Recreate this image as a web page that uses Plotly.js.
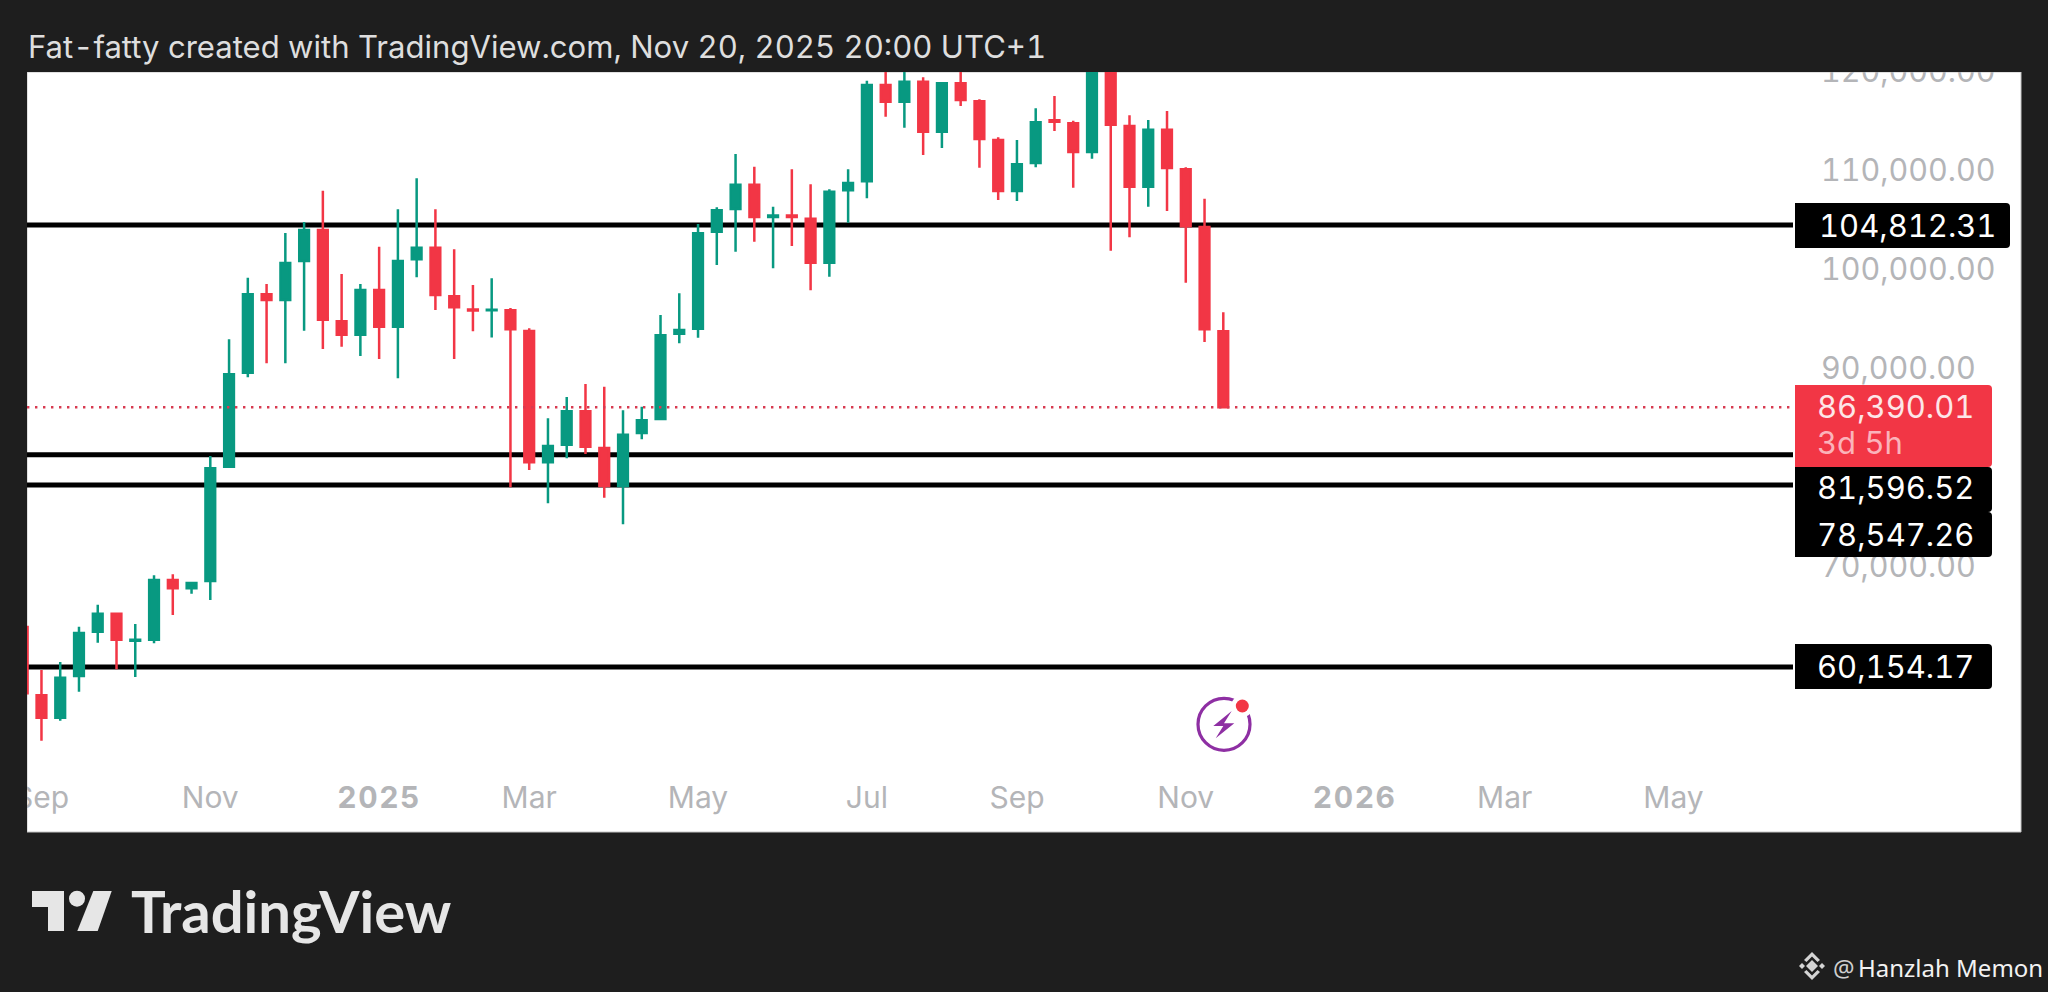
<!DOCTYPE html>
<html>
<head>
<meta charset="utf-8">
<script src="https://cdn.plot.ly/plotly-3.0.1.min.js"></script>
<style>
html,body{margin:0;padding:0;background:#1e1e1e;overflow:hidden}#chart{width:2048px;height:992px}
svg text{font-variant-numeric:tabular-nums;font-feature-settings:"tnum" 1}
.xtick tspan{letter-spacing:1.5px}
</style>
</head>
<body>
<div id="chart"></div>
<script>
const weeks = ["2024-08-26","2024-09-02","2024-09-09","2024-09-16","2024-09-23","2024-09-30","2024-10-07","2024-10-14","2024-10-21","2024-10-28","2024-11-04","2024-11-11","2024-11-18","2024-11-25","2024-12-02","2024-12-09","2024-12-16","2024-12-23","2024-12-30","2025-01-06","2025-01-13","2025-01-20","2025-01-27","2025-02-03","2025-02-10","2025-02-17","2025-02-24","2025-03-03","2025-03-10","2025-03-17","2025-03-24","2025-03-31","2025-04-07","2025-04-14","2025-04-21","2025-04-28","2025-05-05","2025-05-12","2025-05-19","2025-05-26","2025-06-02","2025-06-09","2025-06-16","2025-06-23","2025-06-30","2025-07-07","2025-07-14","2025-07-21","2025-07-28","2025-08-04","2025-08-11","2025-08-18","2025-08-25","2025-09-01","2025-09-08","2025-09-15","2025-09-22","2025-09-29","2025-10-06","2025-10-13","2025-10-20","2025-10-27","2025-11-03","2025-11-10","2025-11-17"];
const opens = [64194,57293,55030,59243,63719,65538,62800,62911,68943,68104,68842,80391,89888,97810,97234,101175,104307,95082,93728,98244,94536,101346,102518,97608,96274,96200,96193,94102,80835,82613,85988,82280,78441,83796,85210,93829,94334,104135,106429,108884,105620,105780,105448,101003,108318,109228,118958,117270,119291,114239,119129,117311,113400,108247,111076,115400,115088,112188,123500,114815,108682,114441,110440,104610,94072];
const highs = [65406,59849,60658,64224,66447,65639,64497,69418,69519,68741,81472,93263,99487,98851,104004,105115,108278,99861,98851,102619,106398,109531,106398,102357,98750,99426,96426,94375,85281,87433,88747,88474,86089,86453,95718,97911,104913,106600,111986,110703,106661,110440,108924,108419,110440,119392,123200,120300,119735,119261,124400,117513,113673,113400,116603,117846,115350,125700,126200,115896,115421,116331,110642,107469,95991];
const lows = [56313,52706,54726,57657,62608,59920,59142,62547,65406,67559,66922,80300,89423,90838,90838,94132,92283,92515,91576,91273,89322,99527,96224,91273,94072,93445,78308,80057,76693,81239,81674,77258,74571,83159,85100,92859,93425,100770,102114,103125,100436,102690,98214,99588,105044,107510,115755,114643,111885,112592,116836,110602,107338,107237,110642,114310,108581,111511,102215,103569,106661,106227,98982,92990,86390.01];
const closes = [57496,55030,59071,63588,65538,62911,62900,68943,68104,68640,80229,89726,97810,97234,100972,104307,95243,93728,98244,94536,101175,102518,97739,96497,96173,96260,94273,80835,82482,85988,82411,78441,83623,85079,93667,94203,103973,106297,108884,105620,105780,105620,101003,108177,109056,118958,117270,119291,114239,119129,117442,113501,108247,110945,115189,115240,112188,123500,114946,108682,114441,110571,104681,94273,86390.01];

const levels = [104812.31, 81596.52, 78547.26, 60154.17];
const lastPrice = 86390.01;
const priceTicks = [70000,90000,100000,110000,120000];
const timeTickDates = ["2024-09-02","2024-11-04","2025-01-06","2025-03-03","2025-05-05","2025-07-07","2025-09-01","2025-11-03","2026-01-05","2026-03-02","2026-05-04"];
const timeTickLabels = ["Sep","Nov","<b>2025</b>","Mar","May","Jul","Sep","Nov","<b>2026</b>","Mar","May"];
const titleText = "Fat-fatty created with TradingView.com, Nov 20, 2025 20:00 UTC+1";

const W=2048,H=992,L=27,R=1793,T=72,B=770;
const GREEN="#089981",RED="#F23645",DARK="#1e1e1e",GREY="#b4b5b8",UI="Inter, Roboto, sans-serif";
const px=x=>(x-L)/(R-L), py=y=>(B-y)/(B-T);
const P=(x,y)=>px(x)+","+py(y);
function pathOf(pts){return "M"+pts.map(p=>P(p[0],p[1])).join(" L")+" Z";}
function paperShape(path,fill,layer){return {type:"path",xref:"paper",yref:"paper",path:path,fillcolor:fill,line:{width:0},layer:layer||"above"};}
function paperRect(x0,y0,x1,y1,fill,layer,line){return {type:"rect",xref:"paper",yref:"paper",x0:px(x0),x1:px(x1),y0:py(y0),y1:py(y1),fillcolor:fill,line:line||{width:0},layer:layer||"above"};}
function circle(cx,cy,r,fill,line){return {type:"circle",xref:"paper",yref:"paper",x0:px(cx-r),x1:px(cx+r),y0:py(cy+r),y1:py(cy-r),fillcolor:fill,line:line||{width:0},layer:"above"};}
function tag(x0,y0,x1,y1,fill){const r=4;return paperShape("M"+P(x0,y0)+" L"+P(x1-r,y0)+" Q"+P(x1,y0)+" "+P(x1,y0+r)+" L"+P(x1,y1-r)+" Q"+P(x1,y1)+" "+P(x1-r,y1)+" L"+P(x0,y1)+" Z",fill);}
function label(x,y,text,size,color,family,anchor){return {xref:"paper",yref:"paper",x:px(x),y:py(y),text:text,showarrow:false,xanchor:anchor||"left",yanchor:"middle",font:{size:size,color:color,family:family||UI},borderpad:0};}

const shapes=[
  paperRect(L,T,2021,832,"#ffffff","below",{color:"#c4c4c4",width:1}),
  ...levels.map(v=>({type:"line",xref:"paper",yref:"y",x0:0,x1:1,y0:v,y1:v,line:{color:"#000",width:5},layer:"below"})),
  {type:"line",xref:"paper",yref:"y",x0:0,x1:1,y0:lastPrice,y1:lastPrice,line:{color:"#d83a50",width:2.4,dash:"2.4px 5.6px"},layer:"above"},
  // frame covers that clip the axis labels at the panel edge
  paperRect(0,0,W,T,DARK),
  paperRect(0,T,L,832,DARK),
  // price tags
  tag(1795,203,2010,248,"#000000"),
  tag(1795,385,1992,467,RED),
  tag(1795,467,1992,512,"#000000"),
  tag(1795,512,1992,557,"#000000"),
  tag(1795,644,1992,689,"#000000"),
  // bolt icon
  circle(1224,724.3,26,"rgba(0,0,0,0)",{color:"#8E2FA3",width:3.2}),
  circle(1242.3,706,11,"#ffffff"),
  circle(1242.3,706,6.5,RED),
  paperShape(pathOf([[1231.7,711],[1213.3,726],[1223.3,726],[1215.7,738.3],[1234.3,723.3],[1224,723.3]]),"#8E2FA3"),
  // TradingView logo
  paperShape(pathOf([[32,891],[64,891],[64,931],[48,931],[48,907],[32,907]]),"#e6e6e6"),
  circle(77,898.7,8,"#e6e6e6"),
  paperShape(pathOf([[93.3,891],[111.7,891],[97.7,931],[77.3,931]]),"#e6e6e6"),
  // Binance mark
  paperShape(pathOf([[1812,960],[1818,966],[1812,972],[1806,966]]),"#d4d4d4"),
  paperShape(pathOf([[1802,963],[1805,966],[1802,969],[1799,966]]),"#d4d4d4"),
  paperShape(pathOf([[1822,963],[1825,966],[1822,969],[1819,966]]),"#d4d4d4"),
  paperShape(pathOf([[1812,952],[1820,960],[1817.5,962],[1812,956.5],[1806.5,962],[1804,960]]),"#d4d4d4"),
  paperShape(pathOf([[1812,980],[1820,972],[1817.5,970],[1812,975.5],[1806.5,970],[1804,972]]),"#d4d4d4")
];

const annotations=[
  label(27,47,titleText,31.1,"#dedede"),
  label(1818,225,"104,812.31",31,"#ffffff"),
  label(1816,406,"86,390.01",31,"#fde6e8"),
  label(1816,443,"3d 5h",31,"#fbb3ba"),
  label(1816,488,"81,596.52",31,"#ffffff"),
  label(1816,534,"78,547.26",31,"#ffffff"),
  label(1816,666,"60,154.17",31,"#ffffff"),
  label(130,910,"<b>TradingView</b>",58,"#e6e6e6","Lato, Inter, sans-serif"),
  label(1832,967,"@",24,"#cfcfcf","Noto Sans, sans-serif"),
  label(1857,967,"Hanzlah Memon",24,"#f2f2f2","Noto Sans, sans-serif")
];

const trace={type:"candlestick",x:weeks,open:opens,high:highs,low:lows,close:closes,
  increasing:{line:{color:GREEN,width:2.5},fillcolor:GREEN},
  decreasing:{line:{color:RED,width:2.5},fillcolor:RED},
  whiskerwidth:0,hoverinfo:"skip",showlegend:false};

const layout={width:W,height:H,paper_bgcolor:DARK,plot_bgcolor:"rgba(0,0,0,0)",showlegend:false,boxgap:0.26,
  margin:{l:L,r:W-R,t:T,b:H-B,pad:0,autoexpand:false},
  xaxis:{type:"date",range:["2024-08-27 14:24","2026-06-17 14:00"],rangeslider:{visible:false},showgrid:false,zeroline:false,showline:false,
    tickmode:"array",tickvals:timeTickDates,ticktext:timeTickLabels,ticks:"",ticklabelstandoff:7,tickangle:0,automargin:false,
    tickfont:{size:30,color:GREY,family:UI}},
  yaxis:{side:"right",range:[49745,120271],showgrid:false,zeroline:false,showline:false,tickmode:"array",tickvals:priceTicks,
    ticktext:priceTicks.map(v=>v.toLocaleString("en-US",{minimumFractionDigits:2})),ticks:"",ticklabelstandoff:27,ticklabelshift:-3,automargin:false,
    tickfont:{size:30.5,color:GREY,family:UI}},
  shapes:shapes,annotations:annotations};

Plotly.newPlot("chart",[trace],layout,{displayModeBar:false,staticPlot:true});
</script>
</body>
</html>
